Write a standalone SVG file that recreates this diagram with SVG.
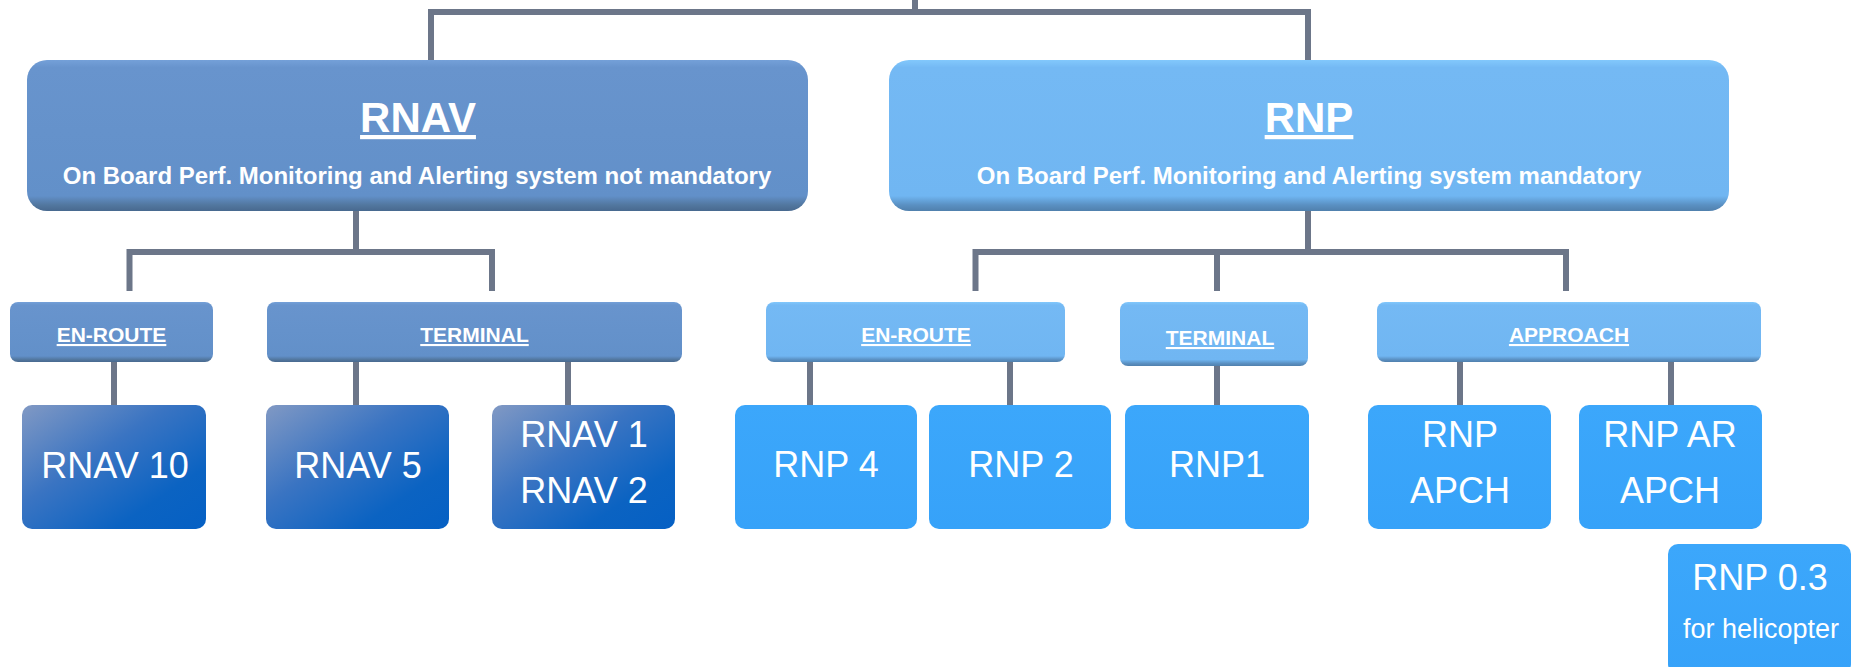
<svg xmlns="http://www.w3.org/2000/svg" width="1856" height="667" viewBox="0 0 1856 667">
<style>
text{font-family:"Liberation Sans",Arial,sans-serif;fill:#ffffff;text-anchor:middle}
.title{font-size:42px;font-weight:bold;text-decoration:underline}
.sub{font-size:24px;font-weight:bold}
.mid{font-size:21px;font-weight:bold;text-decoration:underline}
.leaf{font-size:36px}
.small{font-size:27px}
.conn{fill:none;stroke:#6c7689;stroke-width:6;stroke-linejoin:miter;stroke-linecap:butt}
.rnavMain{fill:url(#gRnavMain)}
.rnpMain{fill:url(#gRnpMain)}
.rnavLeaf{fill:url(#gRnavLeaf)}
.rnpLeaf{fill:url(#gRnpLeaf)}
</style>
<defs>
<linearGradient id="gRnavMain" x1="0" y1="0" x2="0" y2="1">
<stop offset="0" stop-color="#74a0d8"/>
<stop offset="0.05" stop-color="#6894cd"/>
<stop offset="0.9" stop-color="#6290c9"/>
<stop offset="0.96" stop-color="#52779f"/>
<stop offset="1" stop-color="#48698f"/>
</linearGradient>
<linearGradient id="gRnpMain" x1="0" y1="0" x2="0" y2="1">
<stop offset="0" stop-color="#82c8fc"/>
<stop offset="0.05" stop-color="#74b9f4"/>
<stop offset="0.9" stop-color="#70b6f2"/>
<stop offset="0.96" stop-color="#5a90c2"/>
<stop offset="1" stop-color="#5080ad"/>
</linearGradient>
<linearGradient id="gRnavLeaf" x1="0" y1="0" x2="1" y2="1">
<stop offset="0" stop-color="#8199c4"/>
<stop offset="0.4" stop-color="#3a74c2"/>
<stop offset="0.75" stop-color="#0b63c2"/>
<stop offset="1" stop-color="#0560c4"/>
</linearGradient>
<linearGradient id="gRnpLeaf" x1="0" y1="0" x2="0" y2="1">
<stop offset="0" stop-color="#3ca7fb"/>
<stop offset="1" stop-color="#36a2f9"/>
</linearGradient>
</defs>

<g id="connectors">
<path class="conn" d="M915,0 V12"/>
<path class="conn" d="M431,60 V12 H1308 V60"/>
<path class="conn" d="M356,211 V252"/>
<path class="conn" d="M129.5,291 V252 H492 V291"/>
<path class="conn" d="M1308,211 V252"/>
<path class="conn" d="M975.5,291 V252 H1566 V291"/>
<path class="conn" d="M1217,252 V291"/>
<path class="conn" d="M114,362 V405"/>
<path class="conn" d="M356,362 V405"/>
<path class="conn" d="M568,362 V405"/>
<path class="conn" d="M810,362 V407"/>
<path class="conn" d="M1010,362 V407"/>
<path class="conn" d="M1217,364 V405"/>
<path class="conn" d="M1460,362 V405"/>
<path class="conn" d="M1671,362 V405"/>
</g>

<g id="rnav">
<rect class="rnavMain" x="27" y="60" width="781" height="151" rx="20" ry="20"/>
<text class="title" x="418" y="132">RNAV</text>
<text class="sub" x="417" y="184">On Board Perf. Monitoring and Alerting system not mandatory</text>
</g>
<g id="rnp">
<rect class="rnpMain" x="889" y="60" width="840" height="151" rx="20" ry="20"/>
<text class="title" x="1309" y="132">RNP</text>
<text class="sub" x="1309" y="184">On Board Perf. Monitoring and Alerting system mandatory</text>
</g>

<g id="rnav-enroute">
<rect class="rnavMain" x="10" y="302" width="203" height="60" rx="8" ry="8"/>
<text class="mid" x="111.5" y="342">EN-ROUTE</text>
</g>
<g id="rnav-terminal">
<rect class="rnavMain" x="267" y="302" width="415" height="60" rx="8" ry="8"/>
<text class="mid" x="474.5" y="342">TERMINAL</text>
</g>
<g id="rnp-enroute">
<rect class="rnpMain" x="766" y="302" width="299" height="60" rx="8" ry="8"/>
<text class="mid" x="916" y="342">EN-ROUTE</text>
</g>
<g id="rnp-terminal">
<rect class="rnpMain" x="1120" y="302" width="188" height="64" rx="8" ry="8"/>
<text class="mid" x="1220" y="345">TERMINAL</text>
</g>
<g id="rnp-approach">
<rect class="rnpMain" x="1377" y="302" width="384" height="60" rx="8" ry="8"/>
<text class="mid" x="1569" y="342">APPROACH</text>
</g>

<g id="rnav10">
<rect class="rnavLeaf" x="22" y="405" width="184" height="124" rx="10" ry="10"/>
<text class="leaf" x="115" y="478">RNAV 10</text>
</g>
<g id="rnav5">
<rect class="rnavLeaf" x="266" y="405" width="183" height="124" rx="10" ry="10"/>
<text class="leaf" x="358" y="478">RNAV 5</text>
</g>
<g id="rnav1-2">
<rect class="rnavLeaf" x="492" y="405" width="183" height="124" rx="10" ry="10"/>
<text class="leaf" x="584" y="447">RNAV 1</text>
<text class="leaf" x="584" y="503">RNAV 2</text>
</g>
<g id="rnp4">
<rect class="rnpLeaf" x="735" y="405" width="182" height="124" rx="10" ry="10"/>
<text class="leaf" x="826" y="477">RNP 4</text>
</g>
<g id="rnp2">
<rect class="rnpLeaf" x="929" y="405" width="182" height="124" rx="10" ry="10"/>
<text class="leaf" x="1021" y="477">RNP 2</text>
</g>
<g id="rnp1">
<rect class="rnpLeaf" x="1125" y="405" width="184" height="124" rx="10" ry="10"/>
<text class="leaf" x="1217" y="477">RNP1</text>
</g>
<g id="rnp-apch">
<rect class="rnpLeaf" x="1368" y="405" width="183" height="124" rx="10" ry="10"/>
<text class="leaf" x="1460" y="447">RNP</text>
<text class="leaf" x="1460" y="503">APCH</text>
</g>
<g id="rnp-ar-apch">
<rect class="rnpLeaf" x="1579" y="405" width="183" height="124" rx="10" ry="10"/>
<text class="leaf" x="1670" y="447">RNP AR</text>
<text class="leaf" x="1670" y="503">APCH</text>
</g>
<g id="rnp03">
<rect class="rnpLeaf" x="1668" y="544" width="183" height="130" rx="10" ry="10"/>
<text class="leaf" x="1760" y="590">RNP 0.3</text>
<text class="small" x="1761" y="638">for helicopter</text>
</g>
</svg>
